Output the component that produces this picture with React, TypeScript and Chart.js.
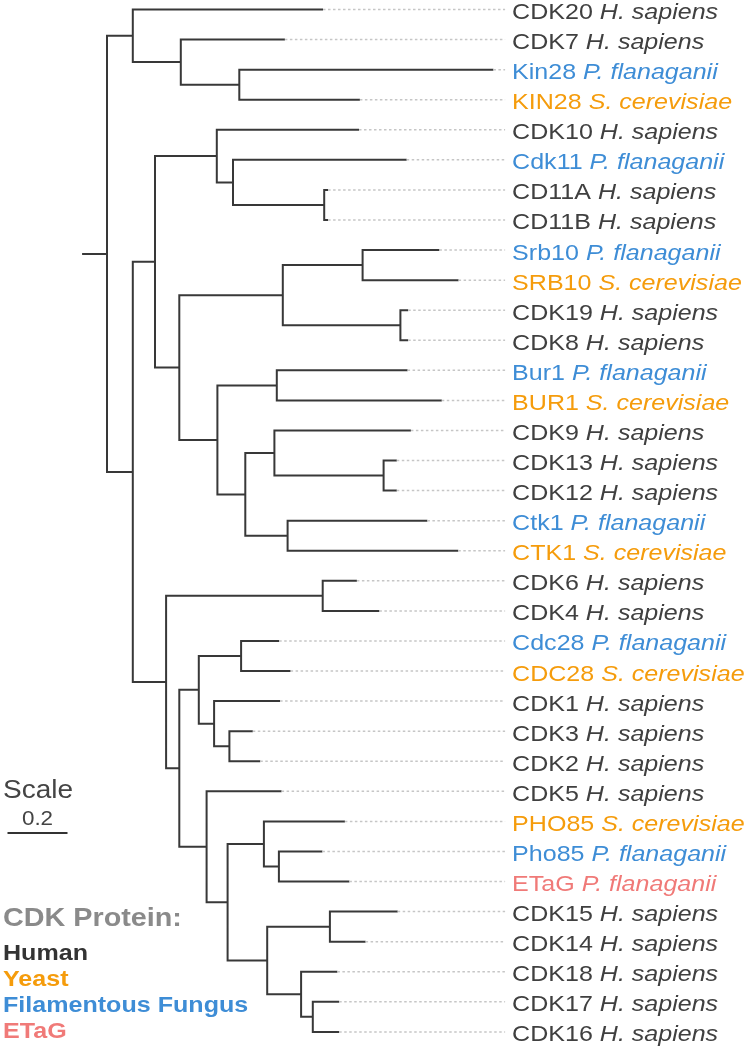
import React, { useEffect, useRef } from "react";
import { Chart, registerables } from "chart.js";

Chart.register(...registerables);

// ---------- DATA ----------
const leafNames = [
  "CDK20", "CDK7", "Kin28", "KIN28", "CDK10", "Cdk11", "CD11A", "CD11B",
  "Srb10", "SRB10", "CDK19", "CDK8", "Bur1", "BUR1", "CDK9", "CDK13",
  "CDK12", "Ctk1", "CTK1", "CDK6", "CDK4", "Cdc28", "CDC28", "CDK1",
  "CDK3", "CDK2", "CDK5", "PHO85", "Pho85", "ETaG", "CDK15", "CDK14",
  "CDK18", "CDK17", "CDK16",
];

const leafSpecies = [
  "H. sapiens", "H. sapiens", "P. flanaganii", "S. cerevisiae", "H. sapiens", "P. flanaganii", "H. sapiens", "H. sapiens",
  "P. flanaganii", "S. cerevisiae", "H. sapiens", "H. sapiens", "P. flanaganii", "S. cerevisiae", "H. sapiens", "H. sapiens",
  "H. sapiens", "P. flanaganii", "S. cerevisiae", "H. sapiens", "H. sapiens", "P. flanaganii", "S. cerevisiae", "H. sapiens",
  "H. sapiens", "H. sapiens", "H. sapiens", "S. cerevisiae", "P. flanaganii", "P. flanaganii", "H. sapiens", "H. sapiens",
  "H. sapiens", "H. sapiens", "H. sapiens",
];

const leafGroups = [
  "human", "human", "fungus", "yeast", "human", "fungus", "human", "human",
  "fungus", "yeast", "human", "human", "fungus", "yeast", "human", "human",
  "human", "fungus", "yeast", "human", "human", "fungus", "yeast", "human",
  "human", "human", "human", "yeast", "fungus", "etag", "human", "human",
  "human", "human", "human",
];

// distance of each leaf tip from the root
const leafDepths = [
  0.720, 0.593, 1.288, 0.843, 0.840, 0.999, 0.737, 0.737,
  1.108, 1.172, 1.004, 1.004, 1.002, 1.116, 1.013, 0.966,
  0.966, 1.068, 1.171, 0.833, 0.908, 0.574, 0.612, 0.577,
  0.486, 0.511, 0.582, 0.793, 0.718, 0.808, 0.969, 0.862,
  0.768, 0.774, 0.774,
];

// internal nodes: name, distance from root, children (node names or leaf names)
const nodeNames = [
  "root", "A", "A1", "A2", "B", "B1", "C", "C1", "C2", "D", "E", "E1", "E2",
  "F", "F1", "G", "G1", "G3", "G2", "B2", "H", "I", "J", "J1", "J2", "J3",
  "K", "L", "M", "M1", "N", "N1", "N2", "N3",
];

const nodeDepths = [
  0.000, 0.086, 0.246, 0.441, 0.086, 0.160, 0.366, 0.420, 0.724, 0.241, 0.586, 0.852, 0.978,
  0.368, 0.566, 0.461, 0.558, 0.922, 0.602, 0.197, 0.719, 0.241, 0.306, 0.447, 0.357, 0.408,
  0.332, 0.402, 0.523, 0.573, 0.534, 0.743, 0.647, 0.686,
];

const nodeChildren = [
  ["A", "B"], ["CDK20", "A1"], ["CDK7", "A2"], ["Kin28", "KIN28"],
  ["B1", "B2"], ["C", "D"], ["CDK10", "C1"], ["Cdk11", "C2"], ["CD11A", "CD11B"],
  ["E", "F"], ["E1", "E2"], ["Srb10", "SRB10"], ["CDK19", "CDK8"],
  ["F1", "G"], ["Bur1", "BUR1"], ["G1", "G2"], ["CDK9", "G3"], ["CDK13", "CDK12"], ["Ctk1", "CTK1"],
  ["H", "I"], ["CDK6", "CDK4"], ["J", "K"], ["J1", "J2"], ["Cdc28", "CDC28"], ["CDK1", "J3"], ["CDK3", "CDK2"],
  ["CDK5", "L"], ["M", "N"], ["PHO85", "M1"], ["Pho85", "ETaG"], ["N1", "N2"], ["CDK15", "CDK14"], ["CDK18", "N3"], ["CDK17", "CDK16"],
];

const rootStub = 0.083;
const guideEnd = 1.327;
const scaleBarValue = 0.2;
const scaleBarLabel = "0.2";
const scaleTitle = "Scale";

const legendTitle = "CDK Protein:";
const legendGroups = ["human", "yeast", "fungus", "etag"];
const legendLabels = ["Human", "Yeast", "Filamentous Fungus", "ETaG"];

const groupColors: Record<string, string> = {
  human: "#404040",
  yeast: "#f59c0c",
  fungus: "#3e8dd6",
  etag: "#f07a78",
};
const legendColors: Record<string, string> = {
  human: "#333333",
  yeast: "#f59c0c",
  fungus: "#3e8dd6",
  etag: "#f07a78",
};

// ---------- TREE GEOMETRY (derived from data) ----------
type Pt = { x: number | null; y: number | null };

function buildTree() {
  const pos: Record<string, { x: number; y: number }> = {};
  leafNames.forEach((n, i) => (pos[n] = { x: leafDepths[i], y: i }));
  const idx: Record<string, number> = {};
  nodeNames.forEach((n, i) => (idx[n] = i));
  const resolve = (name: string): { x: number; y: number } => {
    if (pos[name]) return pos[name];
    const i = idx[name];
    const kids = nodeChildren[i].map(resolve);
    const y = kids.reduce((s, k) => s + k.y, 0) / kids.length;
    pos[name] = { x: nodeDepths[i], y };
    return pos[name];
  };
  resolve("root");
  const lines: Pt[] = [];
  nodeNames.forEach((n, i) => {
    const p = pos[n];
    const [a, b] = nodeChildren[i].map((c) => pos[c]);
    lines.push({ x: a.x, y: a.y }, { x: p.x, y: a.y }, { x: p.x, y: b.y }, { x: b.x, y: b.y }, { x: null, y: null });
  });
  const r = pos["root"];
  lines.push({ x: r.x - rootStub, y: r.y }, { x: r.x, y: r.y }, { x: null, y: null });
  const guides: Pt[] = [];
  leafNames.forEach((_, i) => {
    guides.push({ x: leafDepths[i], y: i }, { x: guideEnd, y: i }, { x: null, y: null });
  });
  return { lines, guides };
}

const FONT = '"Liberation Sans", Arial, Helvetica, sans-serif';

function drawStretched(ctx: CanvasRenderingContext2D, text: string, x: number, y: number, font: string, color: string, sx: number, align: "left" | "center" = "left") {
  ctx.save();
  ctx.font = font;
  ctx.fillStyle = color;
  ctx.textBaseline = "alphabetic";
  const w = ctx.measureText(text).width * sx;
  ctx.translate(align === "center" ? x - w / 2 : x, y);
  ctx.scale(sx, 1);
  ctx.fillText(text, 0, 0);
  ctx.restore();
}

const labelPlugin = {
  id: "treeLabels",
  afterDatasetsDraw(chart: any) {
    const { ctx } = chart;
    const xs = chart.scales.x;
    const ys = chart.scales.y;
    const sx = 1.165;
    const x0 = xs.getPixelForValue(guideEnd) + 7;
    leafNames.forEach((name, i) => {
      const py = ys.getPixelForValue(i) + 9.5;
      const color = groupColors[leafGroups[i]];
      ctx.save();
      ctx.translate(x0, py);
      ctx.scale(sx, 1);
      ctx.textBaseline = "alphabetic";
      ctx.fillStyle = color;
      ctx.font = `21.5px ${FONT}`;
      const head = name + " ";
      ctx.fillText(head, 0, 0);
      const w = ctx.measureText(head).width;
      ctx.font = `italic 21.5px ${FONT}`;
      ctx.fillText(leafSpecies[i], w, 0);
      ctx.restore();
    });

    // scale bar
    drawStretched(ctx, scaleTitle, 3, 798, `25px ${FONT}`, "#444444", 1.12);
    drawStretched(ctx, scaleBarLabel, 37.5, 825, `20px ${FONT}`, "#444444", 1.12, "center");
    const len = xs.getPixelForValue(scaleBarValue) - xs.getPixelForValue(0);
    const bx = 7.5;
    ctx.save();
    ctx.strokeStyle = "#333333";
    ctx.lineWidth = 2;
    ctx.beginPath();
    ctx.moveTo(bx, 833);
    ctx.lineTo(bx + len, 833);
    ctx.stroke();
    ctx.restore();

    // group legend
    drawStretched(ctx, legendTitle, 3, 925.5, `bold 25px ${FONT}`, "#8a8a8a", 1.15);
    legendLabels.forEach((lab, i) => {
      drawStretched(ctx, lab, 3, 960 + i * 26, `bold 22px ${FONT}`, legendColors[legendGroups[i]], 1.14);
    });
  },
};

export default function App() {
  const ref = useRef<HTMLCanvasElement | null>(null);
  useEffect(() => {
    document.body.style.margin = "0";
    const canvas = ref.current;
    if (!canvas) return;
    const { lines, guides } = buildTree();
    const chart = new Chart(canvas, {
      type: "scatter",
      data: {
        datasets: [
          {
            data: guides as any,
            showLine: true,
            spanGaps: false,
            borderColor: "#c6c6c6",
            borderWidth: 1.5,
            borderDash: [2.5, 2.5],
            pointRadius: 0,
            pointHoverRadius: 0,
          },
          {
            data: lines as any,
            showLine: true,
            spanGaps: false,
            borderColor: "#383838",
            borderWidth: 2,
            borderJoinStyle: "miter",
            borderCapStyle: "butt",
            pointRadius: 0,
            pointHoverRadius: 0,
          },
        ],
      },
      options: {
        responsive: false,
        animation: false,
        events: [],
        layout: { padding: 0 },
        plugins: { legend: { display: false }, tooltip: { enabled: false } },
        scales: {
          x: { type: "linear", display: false, min: -107 / 300, max: (750 - 107) / 300 },
          y: { type: "linear", display: false, reverse: true, min: -9.5 / 30.07, max: (1049 - 9.5) / 30.07 },
        },
      },
      plugins: [labelPlugin],
    });
    return () => chart.destroy();
  }, []);
  return (
    <div style={{ width: 750, height: 1049, overflow: "hidden", background: "#fff" }}>
      <canvas ref={ref} width={750} height={1049} style={{ display: "block" }} />
    </div>
  );
}
